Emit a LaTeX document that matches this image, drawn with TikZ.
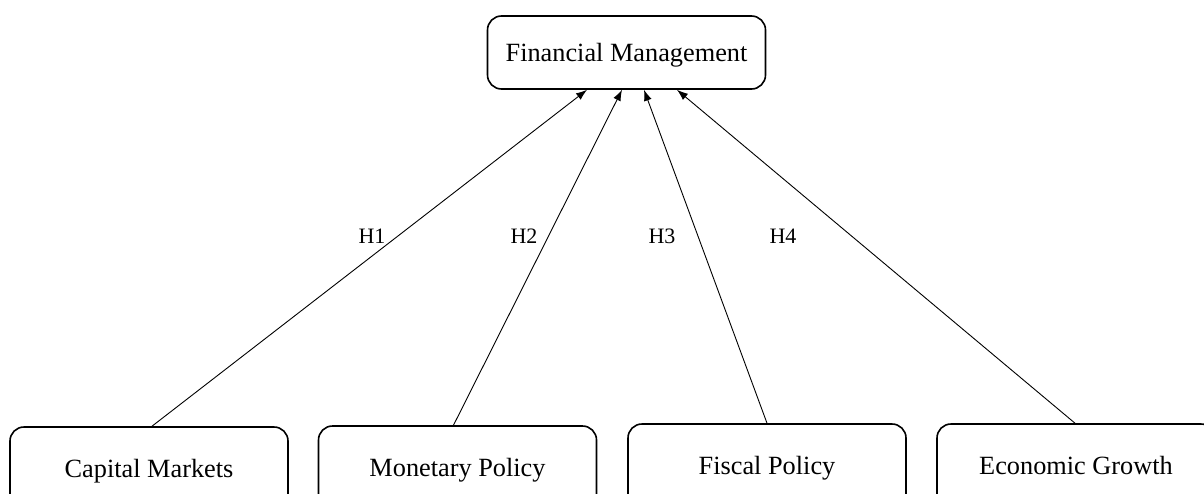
\documentclass[tikz,border=0pt]{standalone}
\usepackage{fontspec}
\setmainfont{Liberation Serif}
\usetikzlibrary{arrows.meta}

\begin{document}
\begin{tikzpicture}[x=1pt,y=-1pt]
\tikzstyle{factor} = [draw, rectangle, rounded corners=14pt, line width=1.6pt, minimum width=278pt, minimum height=73pt, text height=19.5pt, text depth=2.5pt, font=\fontsize{26.3}{30}\selectfont]
\tikzstyle{lower} = [minimum height=84pt]
\tikzstyle{hyp} = [font=\fontsize{22}{26}\selectfont]
\tikzstyle{link} = [-{Latex[length=11pt,width=8pt]}, line width=0.9pt]
\clip (0,0) rectangle (1204,493);
\node[factor] (finmgmt) at (626.5, 52.5) {Financial Management};
\node[factor,lower] (capital) at (149, 469) {Capital Markets};
\node[factor,lower] (monetary) at (457.5, 468) {Monetary Policy};
\node[factor,lower] (fiscal) at (767, 466) {Fiscal Policy};
\node[factor,lower] (growth) at (1076, 466) {Economic Growth};

\draw [link] ([xshift=3pt]capital.north) -- ([xshift=-39.5pt]finmgmt.south);
\draw [link] ([xshift=-4pt]monetary.north) -- ([xshift=-4.5pt]finmgmt.south);
\draw [link] (fiscal.north) -- ([xshift=17.5pt]finmgmt.south);
\draw [link] ([xshift=-1pt]growth.north) -- ([xshift=50.5pt]finmgmt.south);

\node[hyp] (h1) at (372, 236) {H1};
\node[hyp] (h2) at (524, 236) {H2};
\node[hyp] (h3) at (662, 236) {H3};
\node[hyp] (h4) at (783, 236) {H4};
\end{tikzpicture}
\end{document}
